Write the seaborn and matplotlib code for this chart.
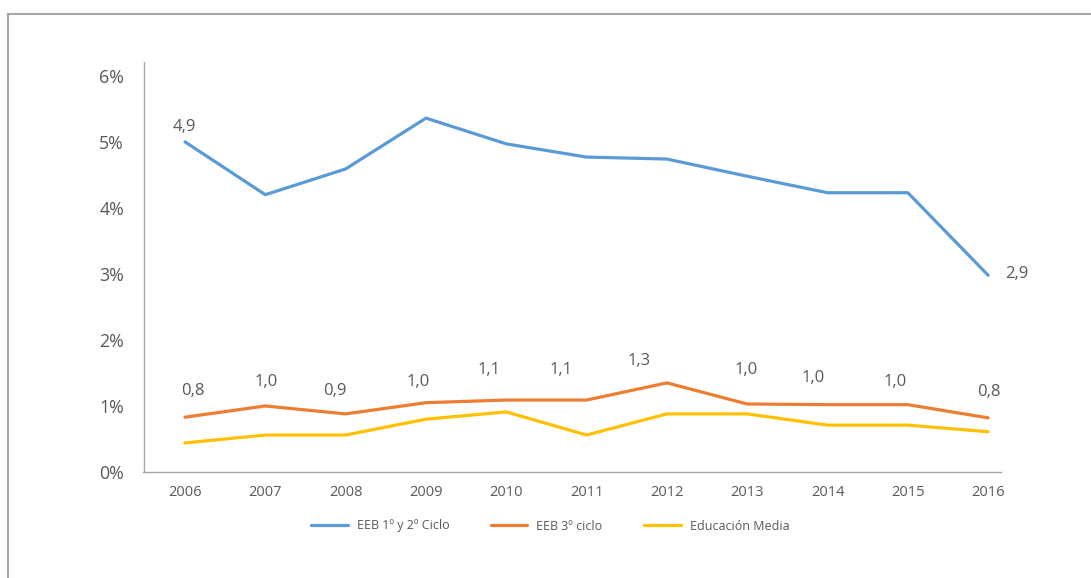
import matplotlib
matplotlib.use("Agg")
import matplotlib.pyplot as plt
import seaborn as sns
import pandas as pd
from matplotlib.patches import Rectangle
from matplotlib.ticker import FuncFormatter

years = [2006, 2007, 2008, 2009, 2010, 2011, 2012, 2013, 2014, 2015, 2016]
eeb_12 = [5.00, 4.20, 4.59, 5.36, 4.97, 4.77, 4.74, 4.48, 4.23, 4.23, 2.98]
eeb_3 = [0.83, 1.00, 0.88, 1.05, 1.09, 1.09, 1.35, 1.03, 1.02, 1.02, 0.82]
media = [0.44, 0.56, 0.56, 0.80, 0.91, 0.56, 0.88, 0.88, 0.71, 0.71, 0.61]
series_names = ["EEB 1º y 2º Ciclo", "EEB 3º ciclo", "Educación Media"]
eeb_3_labels = ["0,8", "1,0", "0,9", "1,0", "1,1", "1,1", "1,3", "1,0", "1,0", "1,0", "0,8"]
eeb_12_labels = {2006: "4,9", 2016: "2,9"}
y_ticks = [0, 1, 2, 3, 4, 5, 6]

# label offsets in pixels (layout only)
eeb_3_offsets = [(8, 26), (1, 24), (-11, 23), (-8, 21), (-17, 30), (-26, 30),
                 (-28, 22), (-1, 34), (-14, 27), (-13, 23), (1, 26)]
eeb_12_offsets = {2006: (-1, 15), 2016: (29, 1)}

colors = ["#5B9BD5", "#ED7D31", "#FFC000"]
text_color = "#595959"

df = pd.DataFrame({
    "year": years * 3,
    "value": eeb_12 + eeb_3 + media,
    "serie": [series_names[0]] * len(years) + [series_names[1]] * len(years) + [series_names[2]] * len(years),
})

sns.set_theme(style="white")
plt.rcParams["font.family"] = ["Open Sans", "DejaVu Sans"]

W, H = 1091, 578
fig = plt.figure(figsize=(W / 100, H / 100), dpi=100)
ax = fig.add_axes([143.5 / W, 1 - 472 / H, (1001 - 143.5) / W, (472 - 62) / H])

sns.lineplot(data=df, x="year", y="value", hue="serie", palette=colors,
             hue_order=series_names, linewidth=2.3, ax=ax, legend=True)

ax.set_xlim(2005.483, 2016.16)
ax.set_ylim(0, 6.21)
ax.set_xticks(years)
ax.set_xticklabels([str(y) for y in years])
ax.set_yticks(y_ticks)
ax.yaxis.set_major_formatter(FuncFormatter(lambda v, p: f"{int(round(v))}%"))
ax.set_xlabel("")
ax.set_ylabel("")
for s in ["top", "right"]:
    ax.spines[s].set_visible(False)
for s in ["left", "bottom"]:
    ax.spines[s].set_color("#A6A6A6")
    ax.spines[s].set_linewidth(1.0)
ax.tick_params(axis="y", length=0, pad=14, labelsize=12.8, labelcolor=text_color)
ax.tick_params(axis="x", length=0, pad=9, labelsize=10.5, labelcolor=text_color)
ax.grid(False)

for yr, v, lab, (dx, dy) in zip(years, eeb_3, eeb_3_labels, eeb_3_offsets):
    ax.annotate(lab, (yr, v), xytext=(dx, dy), textcoords="offset pixels",
                ha="center", va="center", fontsize=12, color=text_color)
for yr, lab in eeb_12_labels.items():
    v = eeb_12[years.index(yr)]
    dx, dy = eeb_12_offsets[yr]
    ax.annotate(lab, (yr, v), xytext=(dx, dy), textcoords="offset pixels",
                ha="center", va="center", fontsize=12, color=text_color)

handles, labels = ax.get_legend_handles_labels()
ax.get_legend().remove()
for h in handles:
    h.set_linewidth(2.3)
fig.legend(handles, labels, loc="center", bbox_to_anchor=(550 / W, 1 - 526 / H),
           ncol=3, frameon=False, fontsize=9, handlelength=2.95,
           handletextpad=0.72, columnspacing=3.3, labelcolor=text_color)

fig.add_artist(Rectangle((8 / W, -0.2), 1.2, 1.2 - 14 / H, transform=fig.transFigure,
                         fill=False, edgecolor="#A6A6A6", linewidth=1.5))

fig.savefig("out.png", dpi=100)
